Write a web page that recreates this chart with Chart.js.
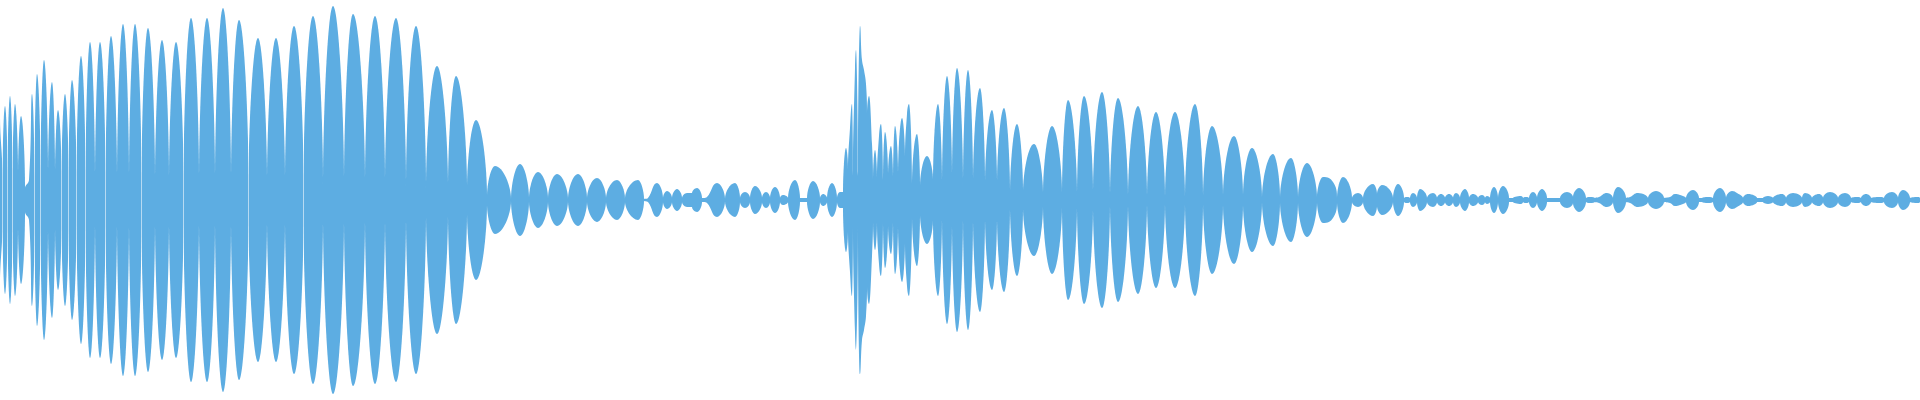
<!DOCTYPE html>
<html lang="en">
<head>
  <meta charset="UTF-8">
  <title>Waveform</title>
  <script src="https://cdn.jsdelivr.net/npm/chart.js"></script>
  <style>
    html, body { margin: 0; padding: 0; background: #fff; }
    .wrap { width: 1920px; height: 400px; position: relative; }
  </style>
</head>
<body>
  <div class="wrap">
    <canvas id="wave"></canvas>
  </div>

<script>
  // frame position and peak level (% of full scale)
  // phrase 1 - loud opening
  const phrase1Frame = [0,2.5,5,7.5,10,12.5,15,18,21,25,29,32,34.5,37,40.5,44,48,52,55,58,61.5,65,68.5,72,76.5,81,85.5,90,95,100,105.5,111,117,123,129,135,141.5,148,155,162,169,176,183.5,191,199,207,215,223,231,239,248.5,258,267,276,285,294,303.5,313,323,333,344,353,365,375,385,396,406,416,426,437,448,456,467,476,487];
  const phrase1Level = [42,12,47,12,52,12,48,12,42,6,10,53,12,63,12,70,12,59,12,45,12,53,12,60,10,72,10,79,9,79,9,82,9,88,9,88,9,86,9,80,9,79,9,91,9,91,9,96,9,90,9,81,9,81,9,87,9,92,8,97,8,93,8,92,8,91,7,87,6,67,6,62,6,40,2];

  // phrase 2 - quiet tail
  const phrase2Frame = [495,511,520,529,538,548,557,568,578,587,597,606,617,625,638,644,648,657,663,667,672,677,682,687,692,697,702,707,717,725,735,740,745,750,755,762,766,770,775,780,783,788,795,800,807,813,820,823,827,832,837,840];
  const phrase2Level = [17,0.5,18,0.8,14,0.8,13,0.5,13,0.8,11,0.8,10,0.8,10,0.5,1,8.5,1,4.5,1,5.5,1,3.5,3.5,6,1,1.5,8.5,0.8,8.5,1,4,1,7,1,4,1,6.5,1,2.5,1,10,1,1,9.5,1,3,1,8.5,1,4];

  // phrase 3 - second burst
  const phrase3Frame = [843,846,848,850,852,853,855,856,858,860,862,864,866,867,869,872,873,875,877,879,881,883,885,888,891,893,895,898,902,905,907,909,912,917,920,927,933,938,942,947,952,957,963,968,973,980,985,992,997,1004,1010,1017,1023,1034,1043,1052,1062,1068,1077,1084,1093,1102,1110,1118,1128,1138,1147,1156,1165,1175,1185,1195,1203,1212,1223,1234,1243,1252,1262,1273,1280];
  const phrase3Level = [4,26,15,36,48,12,66,75,12,87,70,65,58,43,52,28,10,25,10,32,38,10,34,12,27,10,37,12,41,20,43,48,8,33,7,22,10,48,7,62,10,66,7,65,8,56,8,45,8,46,3,38,4,28,3,37,3,50,2,52,3,54,1,51,1,47,1,44,1,44,1,48,1,37,2,32,2,26,1,23,1];

  // phrase 4 - decay
  const phrase4Frame = [1291,1298,1307,1317,1323,1333,1337,1343,1352,1358,1363,1373,1377,1382,1393,1398,1404,1407,1410,1413,1417,1420,1427,1433,1437,1441,1445,1449,1453,1456,1460,1465,1469,1473,1478,1482,1485,1487,1490,1494,1498,1503,1509,1513,1521,1523,1526,1529,1533,1537,1542,1547,1560,1567,1573,1579,1586,1590,1595,1599,1607,1613,1618,1626,1630,1638,1648,1656,1664,1670,1675,1680,1686,1693,1699,1702,1708,1713,1720,1726,1732,1737,1743,1748,1757,1763,1768,1773,1782,1786,1793,1802,1805,1812,1819,1823,1830,1838,1845,1851,1857,1861,1866,1871,1880,1884,1892,1898,1903,1910,1918,1920];
  const phrase4Level = [21,1,18.5,1,11.5,9,1,11.5,1,3.5,1,8,3,7.5,1,8,1,1.5,1,3.5,1,5.5,1,3.5,1,3,1,3,1,3.5,1,5.5,1,3,1,2.5,1,2,1,6.5,1,7,1,1,2,1,1.5,1,4,1,5.5,1,1,4,1.5,6,1,1.5,1,1.5,3.5,1,6.5,1,1.5,3.5,1,4.5,1,1.5,3,2.5,1,5,1,1,1.5,1,6,1,4.5,3.5,1,3,1,1,2,1,3,1,3.5,1,3.5,1,3,1,4,1,3.5,1,1.5,1,3,1,1.5,1,4,1,5,1,1.5,1];

  const waveColor = '#5DADE2';

  const frames = [...phrase1Frame, ...phrase2Frame, ...phrase3Frame, ...phrase4Frame];
  const levels = [...phrase1Level, ...phrase2Level, ...phrase3Level, ...phrase4Level];

  // each lobe is its own curve piece: break the line at every valley
  // so the valleys come out as sharp joins, like the real envelope
  function buildSide(sign) {
    const pts = [];
    for (let i = 0; i < frames.length; i++) {
      const pt = { x: frames[i], y: sign * levels[i] };
      pts.push(pt);
      const isValley = i > 0 && i < frames.length - 1 &&
        levels[i] <= levels[i - 1] && levels[i] <= levels[i + 1];
      if (isValley) {
        pts.push({ x: frames[i], y: null });
        pts.push({ x: frames[i], y: sign * levels[i] });
      }
    }
    return pts;
  }

  // bend the curve so the lobes bulge out like spindles:
  // steep at the valleys, flat at the peaks
  const lobeShape = {
    id: 'lobeShape',
    afterDatasetsUpdate(chart) {
      const base = chart.scales.y.getPixelForValue(0);
      chart.data.datasets.forEach((ds, di) => {
        const meta = chart.getDatasetMeta(di);
        meta.dataset.updateControlPoints(chart.chartArea, 'x');
        const pts = meta.data;
        for (let i = 0; i < pts.length; i++) {
          const p = pts[i];
          if (p.skip) continue;
          const prev = i > 0 && !pts[i - 1].skip ? pts[i - 1] : null;
          const next = i < pts.length - 1 && !pts[i + 1].skip ? pts[i + 1] : null;
          if (!prev && next) {
            p.cp2x = p.x;
            p.cp2y = p.y + 0.4 * (next.y - p.y);
          }
          if (prev && !next) {
            p.cp1x = p.x;
            p.cp1y = p.y + 0.4 * (prev.y - p.y);
          }
          if (prev && next) {
            const h = Math.abs(p.y - base);
            if (h >= Math.abs(prev.y - base) && h >= Math.abs(next.y - base)) {
              p.cp1x = p.x - 0.5 * (p.x - prev.x);
              p.cp1y = p.y;
              p.cp2x = p.x + 0.5 * (next.x - p.x);
              p.cp2y = p.y;
            }
          }
        }
      });
    }
  };

  const ctx = document.getElementById('wave').getContext('2d');
  const waveChart = new Chart(ctx, {
    type: 'line',
    data: {
      datasets: [
        { data: buildSide(1), fill: 'origin' },
        { data: buildSide(-1), fill: 'origin' }
      ]
    },
    options: {
      responsive: true,
      maintainAspectRatio: false,
      animation: false,
      spanGaps: false,
      layout: { padding: 0 },
      elements: {
        line: {
          borderColor: waveColor,
          backgroundColor: waveColor,
          borderWidth: 0,
          tension: 0.45
        },
        point: { radius: 0 }
      },
      scales: {
        x: { type: 'linear', min: 0, max: 1920, display: false },
        y: { min: -100, max: 100, display: false }
      },
      plugins: {
        legend: { display: false },
        tooltip: { enabled: false }
      }
    },
    plugins: [lobeShape]
  });
</script>
</body>
</html>
